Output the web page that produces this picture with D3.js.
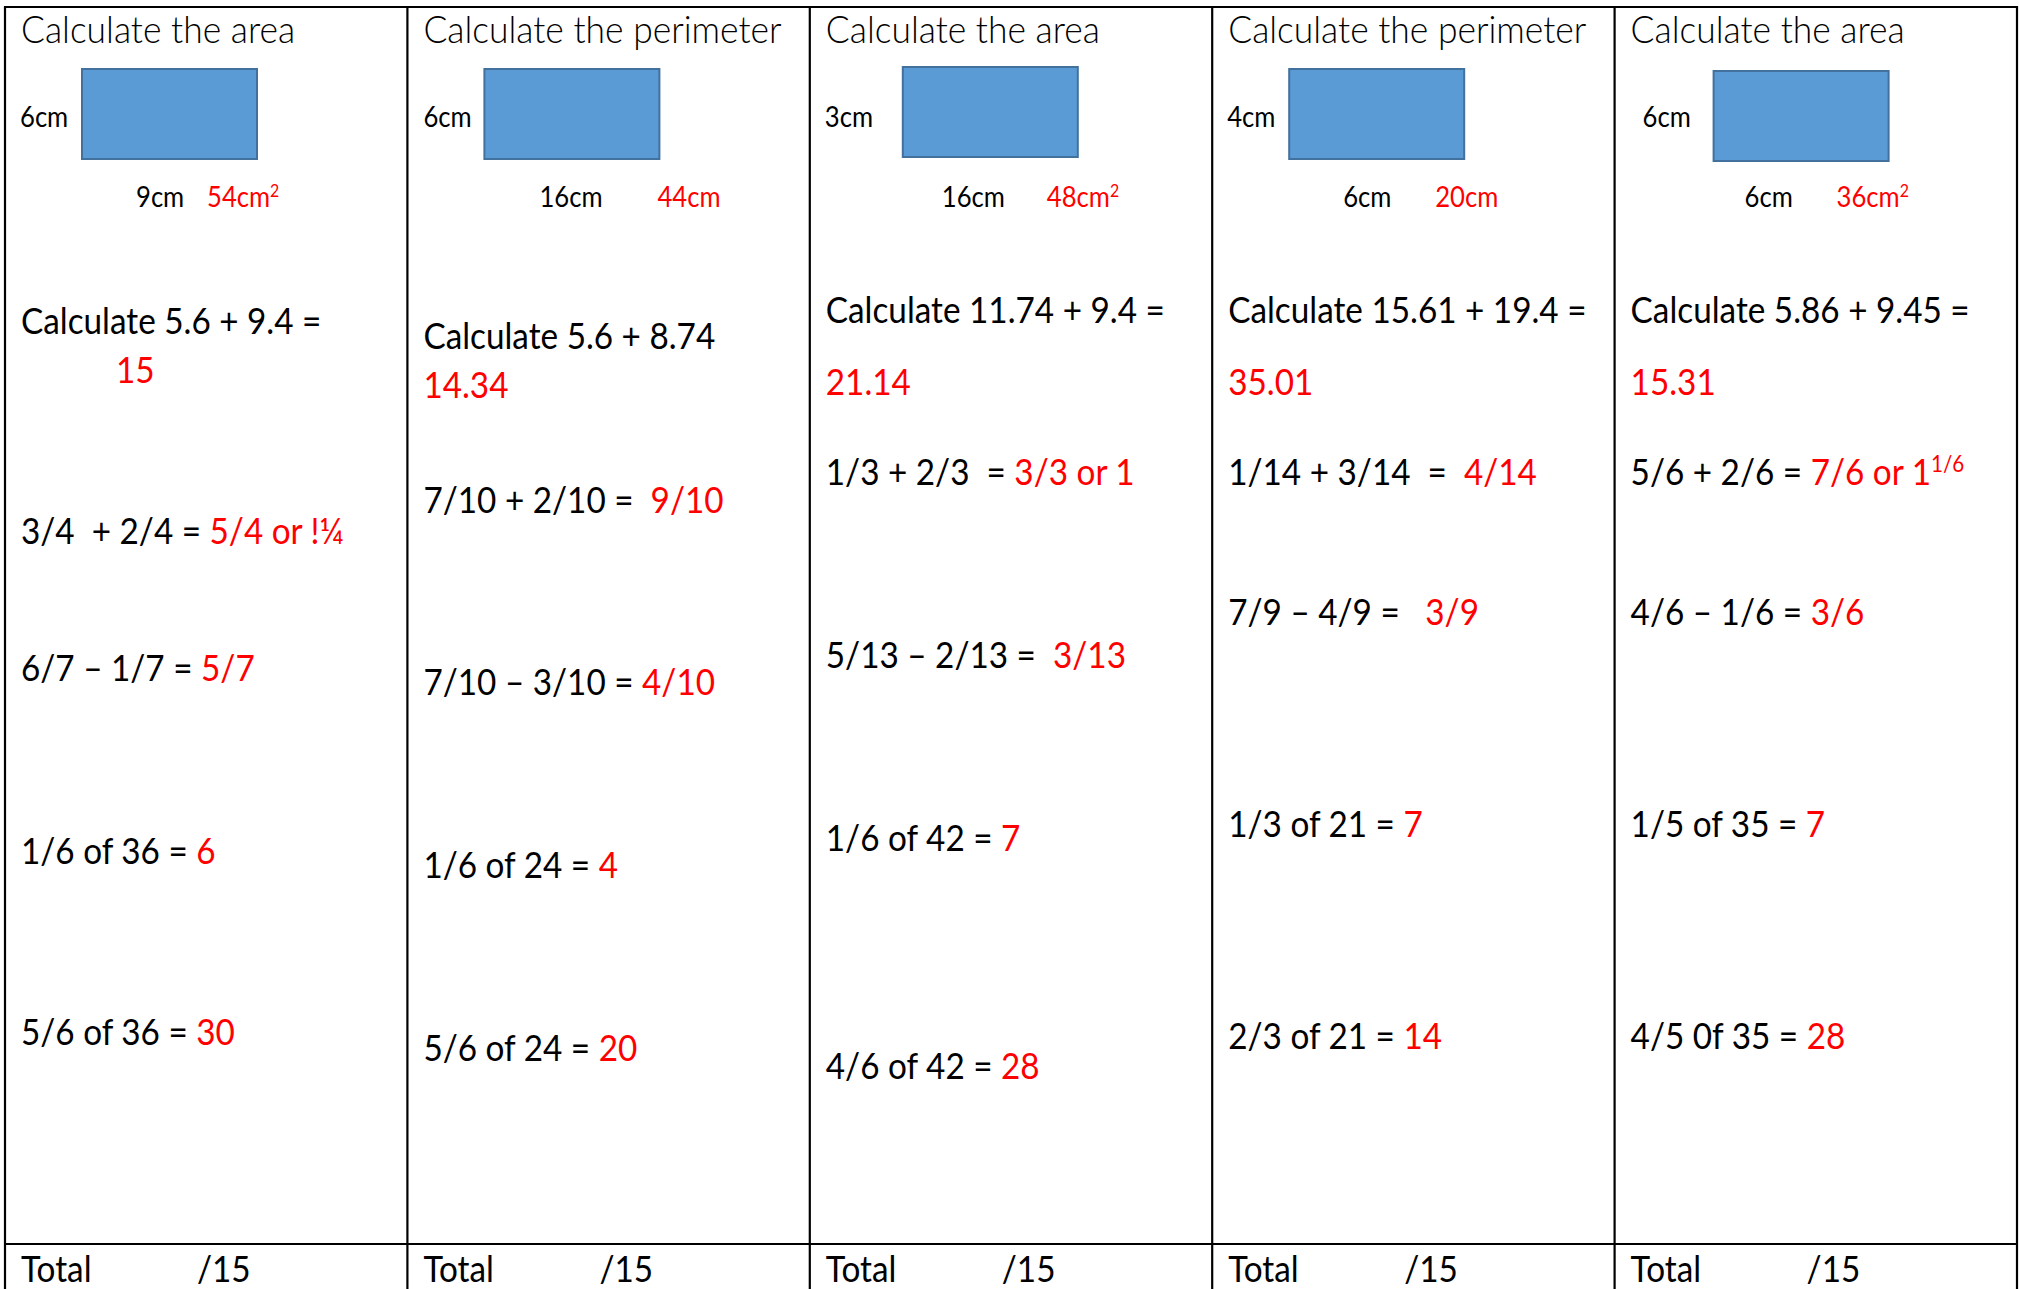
<!DOCTYPE html>
<html>
<head>
<meta charset="utf-8">
<script src="https://cdn.jsdelivr.net/npm/d3@7"></script>
<style>
    html, body { margin: 0; padding: 0; background: #fff; overflow: hidden; }
    text { font-family: Lato, "Open Sans", sans-serif; white-space: pre; }
</style>
</head>
<body>
<div id="sheet"></div>
<script>
// ---------------- worksheet content ----------------
const titles = ["Calculate the area", "Calculate the perimeter", "Calculate the area", "Calculate the perimeter", "Calculate the area"];
const sideLabels = ["6cm", "6cm", "3cm", "4cm", "6cm"];
const baseLabels = ["9cm", "16cm", "16cm", "6cm", "6cm"];
const shapeAnswers = ["54cm", "44cm", "48cm", "20cm", "36cm"];
const shapeSup = ["2", "", "2", "", "2"];
const decimalQuestions = ["Calculate 5.6 + 9.4 =", "Calculate 5.6 + 8.74", "Calculate 11.74 + 9.4 =", "Calculate 15.61 + 19.4 =", "Calculate 5.86 + 9.45 ="];
const decimalAnswers = ["15", "14.34", "21.14", "35.01", "15.31"];
const addQuestions = ["3/4  + 2/4 = ", "7/10 + 2/10 =  ", "1/3 + 2/3  = ", "1/14 + 3/14  =  ", "5/6 + 2/6 = "];
const addAnswers = ["5/4 or !¼", "9/10", "3/3 or 1", "4/14", "7/6 or 1"];
const addSup = ["", "", "", "", "1/6"];
const subQuestions = ["6/7 – 1/7 = ", "7/10 – 3/10 = ", "5/13 – 2/13 =  ", "7/9 – 4/9 =   ", "4/6 – 1/6 = "];
const subAnswers = ["5/7", "4/10", "3/13", "3/9", "3/6"];
const partQuestions = ["1/6 of 36 = ", "1/6 of 24 = ", "1/6 of 42 = ", "1/3 of 21 = ", "1/5 of 35 = "];
const partAnswers = ["6", "4", "7", "7", "7"];
const multiQuestions = ["5/6 of 36 = ", "5/6 of 24 = ", "4/6 of 42 = ", "2/3 of 21 = ", "4/5 0f 35 = "];
const multiAnswers = ["30", "20", "28", "14", "28"];
const totalLabel = "Total";
const totalMarks = "/15";

// ---------------- layout ----------------
const breite = 2019, hohe = 1289;
const pad = 16;
const squeeze = 0.9;     // Calibri is narrower than Lato
const big = 37, small = 28.5;
const red = "#ff0000";

// baselines of the question rows, one per column
const rowY = {
    decimal: [334, 349, 323, 323, 323],
    decimalAns: [383, 398, 395, 395, 395],
    add: [544, 513, 485, 485, 485],
    sub: [681, 695, 668, 625, 625],
    part: [864, 878, 851, 837, 837],
    multi: [1045, 1061, 1079, 1049, 1049]
};
const decimalAnsDx = [111, pad, pad, pad, pad];
const rectDx = [77, 77, 93, 77, 99];
const rectY = [69, 69, 67, 69, 71];
const sideDx = [15, 16, 15, 15, 28];
const baseDx = [131, 132, 132, 131, 130];
const ansDx = [202, 250, 237, 223, 222];

const svg = d3.select("#sheet").append("svg")
    .attr("width", breite)
    .attr("height", hohe);

const col = d3.scaleBand()
    .domain(d3.range(titles.length))
    .range([5, 2017]);

const cols = svg.selectAll("g.col")
    .data(d3.range(titles.length))
    .enter().append("g")
    .attr("class", "col");

// write one line: black part then red part (+ optional superscript)
function line(sel, xFn, yFn, size, black, redPart, sup, weight, sx) {
    const t = sel.append("text")
        .attr("transform", i => `translate(${xFn(i)},${yFn(i)}) scale(${sx || squeeze},1)`)
        .attr("font-size", size)
        .attr("font-weight", weight || 400);
    t.append("tspan").attr("fill", "#000").text(i => black ? black[i] : "");
    t.append("tspan").attr("fill", red).text(i => redPart ? redPart[i] : "");
    if (sup) {
        t.append("tspan")
            .attr("fill", red)
            .attr("font-size", size * 0.62)
            .attr("dy", -size * 0.36)
            .text(i => sup[i]);
    }
    return t;
}

// title
line(cols, i => col(i) + pad, () => 43, 37.5, titles, null, null, 300, 0.945);

// rectangle
cols.append("rect")
    .attr("x", i => col(i) + rectDx[i])
    .attr("y", i => rectY[i])
    .attr("width", 175)
    .attr("height", 90)
    .attr("fill", "#5b9bd5")
    .attr("stroke", "#41719c")
    .attr("stroke-width", 2);

line(cols, i => col(i) + sideDx[i], () => 127, small, sideLabels);
line(cols, i => col(i) + baseDx[i], () => 207, small, baseLabels);
line(cols, i => col(i) + ansDx[i], () => 207, small, null, shapeAnswers, shapeSup);

// questions
line(cols, i => col(i) + pad, i => rowY.decimal[i], big, decimalQuestions);
line(cols, i => col(i) + decimalAnsDx[i], i => rowY.decimalAns[i], big, null, decimalAnswers);
line(cols, i => col(i) + pad, i => rowY.add[i], big, addQuestions, addAnswers, addSup);
line(cols, i => col(i) + pad, i => rowY.sub[i], big, subQuestions, subAnswers);
line(cols, i => col(i) + pad, i => rowY.part[i], big, partQuestions, partAnswers);
line(cols, i => col(i) + pad, i => rowY.multi[i], big, multiQuestions, multiAnswers);

// total row
line(cols, i => col(i) + pad, () => 1282, big, titles.map(() => totalLabel));
line(cols, i => col(i) + 192, () => 1282, big, titles.map(() => totalMarks));

// table grid
const grid = svg.append("g")
    .attr("stroke", "#000")
    .attr("stroke-width", 2.2);

grid.selectAll("line.v")
    .data(d3.range(titles.length + 1))
    .enter().append("line")
    .attr("class", "v")
    .attr("x1", i => i < titles.length ? col(i) : col.range()[1])
    .attr("x2", i => i < titles.length ? col(i) : col.range()[1])
    .attr("y1", 6)
    .attr("y2", hohe);

grid.append("line")
    .attr("x1", col.range()[0]).attr("x2", col.range()[1])
    .attr("y1", 7).attr("y2", 7);

grid.append("line")
    .attr("x1", col.range()[0]).attr("x2", col.range()[1])
    .attr("y1", 1244).attr("y2", 1244);
</script>
</body>
</html>
